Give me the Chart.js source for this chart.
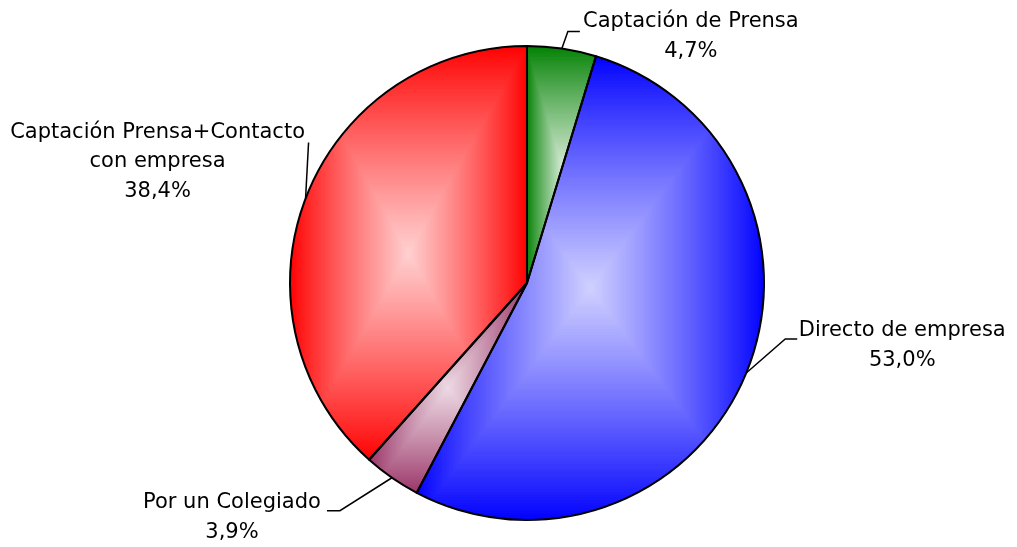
<!DOCTYPE html>
<html>
<head>
<meta charset="utf-8">
<script src="https://cdn.jsdelivr.net/npm/chart.js@4.4.1/dist/chart.umd.min.js"></script>
<style>
  html, body { margin: 0; padding: 0; background: #ffffff; }
  #wrap { width: 1017px; height: 547px; position: relative; }
</style>
</head>
<body>
<div id="wrap"><canvas id="c" width="1017" height="547"></canvas></div>
<script>
// ---- data ----
const categories = ['Captación de Prensa', 'Directo de empresa', 'Por un Colegiado', 'Captación Prensa+Contacto con empresa'];
const labelLines = [['Captación de Prensa'], ['Directo de empresa'], ['Por un Colegiado'], ['Captación Prensa+Contacto', 'con empresa']];
const values = [4.7, 53.0, 3.9, 38.4];
const baseColors = ['#008000', '#0000FF', '#993366', '#FF0000'];

// label leader geometry, as offsets from the slice's mid-edge anchor (style only)
const leaderStyle = [
  { elbow: [6, -17], end: [18, -17], text: [129, -27], align: 'center' },
  { elbow: [39, -34], end: [51, -34], text: [156, -42], align: 'center' },
  { elbow: [-52, 33], end: [-65, 33], text: [-160, 25], align: 'center' },
  { elbow: [3, -56], end: [3, -56], text: [-148, -66], align: 'center' }
];

function hexToRgb(h) {
  const n = parseInt(h.slice(1), 16);
  return [(n >> 16) & 255, (n >> 8) & 255, n & 255];
}
function mix(c, f) {
  return 'rgb(' + c.map(v => Math.round(v + (255 - v) * f)).join(',') + ')';
}

function slicePath(ctx, p) {
  ctx.beginPath();
  ctx.moveTo(p.x, p.y);
  ctx.arc(p.x, p.y, p.outerRadius, p.startAngle, p.endAngle);
  ctx.closePath();
}

const pyramidFill = {
  id: 'pyramidFill',
  afterDatasetsDraw(chart) {
    const ctx = chart.ctx;
    const meta = chart.getDatasetMeta(0);
    const props = meta.data.map(a => a.getProps(['x', 'y', 'startAngle', 'endAngle', 'outerRadius'], true));
    props.forEach((p, i) => {
      const R = p.outerRadius;
      const pts = [[p.x, p.y],
        [p.x + R * Math.cos(p.startAngle), p.y + R * Math.sin(p.startAngle)],
        [p.x + R * Math.cos(p.endAngle), p.y + R * Math.sin(p.endAngle)]];
      for (let k = -4; k <= 8; k++) {
        const a = k * Math.PI / 2;
        if (a > p.startAngle && a < p.endAngle) pts.push([p.x + R * Math.cos(a), p.y + R * Math.sin(a)]);
      }
      const xs = pts.map(q => q[0]), ys = pts.map(q => q[1]);
      const x0 = Math.min(...xs), x1 = Math.max(...xs), y0 = Math.min(...ys), y1 = Math.max(...ys);
      const cx = (x0 + x1) / 2, cy = (y0 + y1) / 2, bw = x1 - x0 + 2, bh = y1 - y0 + 2;
      const base = hexToRgb(baseColors[i]);
      ctx.save();
      slicePath(ctx, p);
      ctx.clip();
      const steps = 90;
      for (let s = 0; s < steps; s++) {
        const t = s / steps;
        const w = bw * (1 - t), h = bh * (1 - t);
        ctx.fillStyle = mix(base, 0.82 * Math.pow(t, 0.9));
        ctx.fillRect(cx - w / 2, cy - h / 2, w, h);
      }
      ctx.restore();
    });
    ctx.save();
    ctx.strokeStyle = '#000';
    ctx.lineWidth = 2;
    ctx.lineJoin = 'round';
    props.forEach(p => { slicePath(ctx, p); ctx.stroke(); });
    ctx.restore();
  }
};

const sliceLabels = {
  id: 'sliceLabels',
  afterDraw(chart) {
    const ctx = chart.ctx;
    const meta = chart.getDatasetMeta(0);
    ctx.save();
    ctx.font = '21px "DejaVu Sans", sans-serif';
    ctx.fillStyle = '#000';
    ctx.strokeStyle = '#000';
    ctx.lineWidth = 1.5;
    ctx.textBaseline = 'middle';
    meta.data.forEach((arc, i) => {
      const p = arc.getProps(['x', 'y', 'startAngle', 'endAngle', 'outerRadius'], true);
      const mid = (p.startAngle + p.endAngle) / 2;
      const ax = p.x + p.outerRadius * Math.cos(mid);
      const ay = p.y + p.outerRadius * Math.sin(mid);
      const st = leaderStyle[i];
      ctx.beginPath();
      ctx.moveTo(ax, ay);
      ctx.lineTo(ax + st.elbow[0], ay + st.elbow[1]);
      ctx.lineTo(ax + st.end[0], ay + st.end[1]);
      ctx.stroke();
      const lines = labelLines[i].concat([values[i].toFixed(1).replace('.', ',') + '%']);
      ctx.textAlign = st.align;
      lines.forEach((ln, k) => {
        ctx.fillText(ln, ax + st.text[0], ay + st.text[1] + k * 29.5);
      });
    });
    ctx.restore();
  }
};

new Chart(document.getElementById('c'), {
  type: 'pie',
  data: {
    labels: categories,
    datasets: [{
      data: values,
      backgroundColor: baseColors,
      borderWidth: 0
    }]
  },
  options: {
    responsive: false,
    animation: false,
    layout: { padding: { left: 290, right: 253, top: 46, bottom: 27 } },
    plugins: { legend: { display: false }, tooltip: { enabled: false } }
  },
  plugins: [pyramidFill, sliceLabels]
});
</script>
</body>
</html>
